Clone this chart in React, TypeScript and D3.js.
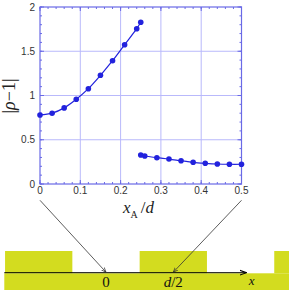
import React from "react";
import * as d3 from "d3";

const upperX = [0, 0.03, 0.06, 0.09, 0.12, 0.15, 0.18, 0.21, 0.24, 0.25];
const upperY = [0.78, 0.8, 0.86, 0.957, 1.077, 1.228, 1.393, 1.574, 1.755, 1.827];
const lowerX = [0.25, 0.26, 0.29, 0.32, 0.35, 0.38, 0.41, 0.44, 0.47, 0.5];
const lowerY = [0.328, 0.316, 0.297, 0.282, 0.263, 0.245, 0.234, 0.226, 0.223, 0.223];
const xTicks = [0, 0.1, 0.2, 0.3, 0.4, 0.5];
const yTicks = [0, 0.5, 1, 1.5, 2];
const xTickLabels = ["0", "0.1", "0.2", "0.3", "0.4", "0.5"];
const yTickLabels = ["0", "0.5", "1", "1.5", "2"];

export default function App() {
  const W = 289, H = 290;
  const x = d3.scaleLinear().domain([0, 0.5]).range([40, 241.5]);
  const y = d3.scaleLinear().domain([0, 2]).range([184, 7]);
  const frame = "#6a6ae6";
  const grid = "#b9b9fb";
  const dataC = "#2222dd";
  const yellow = "#d3dc1f";
  const upPath = d3
    .line<number>()
    .curve(d3.curveCatmullRom.alpha(0.5))
    .x((_, i) => x(upperX[i]))
    .y((d) => y(d))(upperY as any);
  const lowPath = d3
    .line<number>()
    .curve(d3.curveCatmullRom.alpha(0.5))
    .x((_, i) => x(lowerX[i]))
    .y((d) => y(d))(lowerY as any);
  const xMinor = d3.range(0, 0.5001, 0.02);
  const yMinor = d3.range(0, 2.0001, 0.1);
  const [x0, x1] = x.range();
  const [yb, yt] = y.range();

  const origin = 106;
  const half = 67.3;
  const baseTop = 273.3;
  const blockTop = 251;
  const blocks = [-1, 1, 3].map((k) => origin + k * half - half / 2);
  const serif = "'Liberation Serif', 'Times New Roman', serif";

  return (
    <svg width={W} height={H} style={{ position: "absolute", left: 0, top: 0 }} fontFamily="'Liberation Sans', Arial, sans-serif">
      <defs>
        <marker id="ah" viewBox="0 0 10 10" refX="10" refY="5" markerWidth="6" markerHeight="6" orient="auto">
          <path d="M0,1 L10,5 L0,9" fill="none" stroke="#333" strokeWidth="1.5" />
        </marker>
        <marker id="ah2" viewBox="0 0 10 10" refX="10" refY="5" markerWidth="7" markerHeight="7" orient="auto">
          <path d="M0,1.5 L10,5 L0,8.5" fill="none" stroke="#000" strokeWidth="1.5" />
        </marker>
      </defs>
      <rect width={W} height={H} fill="#fff" />
      {xTicks.slice(1, -1).map((t) => (
        <line key={"gx" + t} x1={x(t)} x2={x(t)} y1={yb} y2={yt} stroke={grid} strokeWidth={1} />
      ))}
      {yTicks.slice(1, -1).map((t) => (
        <line key={"gy" + t} x1={x0} x2={x1} y1={y(t)} y2={y(t)} stroke={grid} strokeWidth={1} />
      ))}
      {xMinor.map((t) => (
        <g key={"mx" + t}>
          <line x1={x(t)} x2={x(t)} y1={yb} y2={yb - 2} stroke={frame} strokeWidth={1} />
          <line x1={x(t)} x2={x(t)} y1={yt} y2={yt + 2} stroke={frame} strokeWidth={1} />
        </g>
      ))}
      {yMinor.map((t) => (
        <g key={"my" + t}>
          <line x1={x0} x2={x0 + 2} y1={y(t)} y2={y(t)} stroke={frame} strokeWidth={1} />
          <line x1={x1} x2={x1 - 2} y1={y(t)} y2={y(t)} stroke={frame} strokeWidth={1} />
        </g>
      ))}
      {xTicks.map((t) => (
        <g key={"Mx" + t}>
          <line x1={x(t)} x2={x(t)} y1={yb} y2={yb - 4} stroke={frame} strokeWidth={1} />
          <line x1={x(t)} x2={x(t)} y1={yt} y2={yt + 4} stroke={frame} strokeWidth={1} />
        </g>
      ))}
      {yTicks.map((t) => (
        <g key={"My" + t}>
          <line x1={x0} x2={x0 + 4} y1={y(t)} y2={y(t)} stroke={frame} strokeWidth={1} />
          <line x1={x1} x2={x1 - 4} y1={y(t)} y2={y(t)} stroke={frame} strokeWidth={1} />
        </g>
      ))}
      <rect x={x0} y={yt} width={x1 - x0} height={yb - yt} fill="none" stroke={frame} strokeWidth={1.2} />
      {xTicks.map((t, i) => (
        <text key={"lx" + t} x={x(t)} y={yb + 10} fontSize={10} textAnchor="middle" fill="#333">
          {xTickLabels[i]}
        </text>
      ))}
      {yTicks.map((t, i) => (
        <text key={"ly" + t} x={x0 - 5} y={y(t) + 3.5} fontSize={10} textAnchor="end" fill="#333">
          {yTickLabels[i]}
        </text>
      ))}
      <path d={upPath || ""} fill="none" stroke={dataC} strokeWidth={1.2} />
      <path d={lowPath || ""} fill="none" stroke={dataC} strokeWidth={1.2} />
      {upperY.map((v, i) => (
        <circle key={"u" + i} cx={x(upperX[i])} cy={y(v)} r={2.8} fill={dataC} />
      ))}
      {lowerY.map((v, i) => (
        <circle key={"l" + i} cx={x(lowerX[i])} cy={y(v)} r={2.8} fill={dataC} />
      ))}
      <text x={123} y={213} fontFamily={serif} fontSize={17} fill="#222">
        <tspan fontStyle="italic">x</tspan>
        <tspan fontSize={10} dy={5}>A</tspan>
        <tspan dy={-5} dx={3}>/</tspan>
        <tspan fontStyle="italic">d</tspan>
      </text>
      <text transform="translate(15,96) rotate(-90)" textAnchor="middle" fontFamily={serif} fontSize={18} fill="#222">
        <tspan>|</tspan>
        <tspan fontStyle="italic">ρ</tspan>
        <tspan>−1|</tspan>
      </text>
      <rect x={4.3} y={baseTop} width={W - 4.3} height={H - baseTop} fill={yellow} />
      {blocks.map((b, i) => (
        <rect key={"b" + i} x={Math.max(b, 4.3)} y={blockTop} width={Math.min(b + half, W) - Math.max(b, 4.3)} height={baseTop - blockTop} fill={yellow} />
      ))}
      <line x1={4.3} x2={246.5} y1={272.7} y2={272.7} stroke="#000" strokeWidth={1} markerEnd="url(#ah2)" />
      <line x1={x(0)} y1={200.3} x2={origin} y2={272.2} stroke="#333" strokeWidth={0.8} markerEnd="url(#ah)" />
      <line x1={x(0.5)} y1={200.3} x2={origin + half} y2={272.2} stroke="#333" strokeWidth={0.8} markerEnd="url(#ah)" />
      <text x={origin} y={287} textAnchor="middle" fontFamily={serif} fontSize={15} fill="#111">
        0
      </text>
      <text x={origin + half} y={287} textAnchor="middle" fontFamily={serif} fontSize={15} fill="#111">
        <tspan fontStyle="italic">d</tspan>
        <tspan>/2</tspan>
      </text>
      <text x={251.7} y={285} textAnchor="middle" fontFamily={serif} fontSize={13} fontStyle="italic" fill="#111">
        x
      </text>
    </svg>
  );
}
